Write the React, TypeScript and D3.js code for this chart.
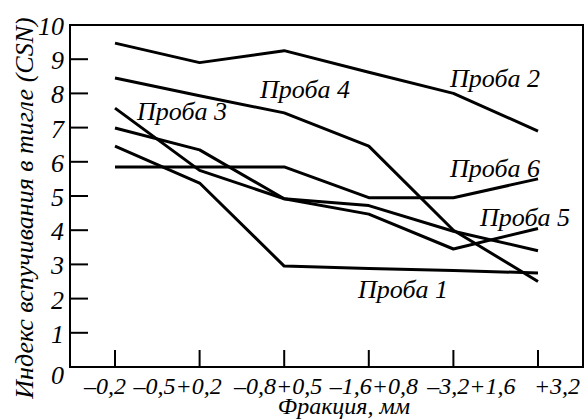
import React from 'react';
import * as d3 from 'd3';

// fractions, mm
const fractions = ['–0,2', '–0,5+0,2', '–0,8+0,5', '–1,6+0,8', '–3,2+1,6', '+3,2'];
const yTicks = [0, 1, 2, 3, 4, 5, 6, 7, 8, 9, 10];

// CSN values per sample
const proba1 = [6.46, 5.38, 2.95, 2.88, 2.82, 2.75];
const proba2 = [9.47, 8.9, 9.25, 8.62, 8.0, 6.9];
const proba3 = [7.57, 5.75, 4.92, 4.72, 3.97, 3.4];
const proba4 = [8.45, 7.93, 7.43, 6.46, 4.0, 2.5];
const proba5 = [6.99, 6.35, 4.92, 4.47, 3.45, 4.05];
const proba6 = [5.85, 5.85, 5.85, 4.95, 4.95, 5.5];

const series = [proba1, proba2, proba3, proba4, proba5, proba6];

// label placement (pixels)
const labels = [
  { text: 'Проба 1', x: 358, y: 298 },
  { text: 'Проба 2', x: 450, y: 87 },
  { text: 'Проба 3', x: 137, y: 120 },
  { text: 'Проба 4', x: 260, y: 98 },
  { text: 'Проба 5', x: 480, y: 226 },
  { text: 'Проба 6', x: 450, y: 177 },
];

const W = 584;
const H = 419;
const frame = { left: 70, top: 25, right: 583, bottom: 367 };
// horizontal shift of each fraction label from its tick
const fracShift = [-10, -22, -6, 5, 18, 19];

const serif = { fontFamily: "'Tinos'", fontStyle: 'italic' };

export default function App() {
  const x = d3.scalePoint().domain(fractions).range([115, 538]);
  const y = d3.scaleLinear().domain([0, 10]).range([frame.bottom, frame.top]);

  const line = d3
    .line()
    .x((_, i) => x(fractions[i]))
    .y((d) => y(d));

  return (
    <svg width={W} height={H} style={{ position: 'absolute', left: 0, top: 0 }}>
      <rect
        x={frame.left}
        y={frame.top}
        width={frame.right - frame.left}
        height={frame.bottom - frame.top}
        fill="none"
        stroke="#000"
        strokeWidth={2}
      />
      {yTicks.map((t) => (
        <g key={t}>
          {t > 0 && t < 10 && (
            <line x1={frame.left} x2={frame.left + 18} y1={y(t)} y2={y(t)} stroke="#000" strokeWidth={2} />
          )}
          <text x={64} y={y(t) + (t === 0 ? 17 : 10)} textAnchor="end" fontSize={26} style={serif}>
            {t}
          </text>
        </g>
      ))}
      {fractions.map((f, i) => (
        <g key={f}>
          <line x1={x(f)} x2={x(f)} y1={frame.bottom} y2={frame.bottom - 17} stroke="#000" strokeWidth={2} />
          <text x={x(f) + fracShift[i]} y={394} textAnchor="middle" fontSize={24} style={serif}>
            {f}
          </text>
        </g>
      ))}
      {series.map((s, i) => (
        <path key={i} d={line(s)} fill="none" stroke="#000" strokeWidth={3} strokeLinejoin="round" />
      ))}
      {labels.map((l) => (
        <text key={l.text} x={l.x} y={l.y} fontSize={26} style={serif}>
          {l.text}
        </text>
      ))}
      <text x={344} y={414} textAnchor="middle" fontSize={24} style={serif}>
        Фракция, мм
      </text>
      <text transform="translate(33,208) rotate(-90)" textAnchor="middle" fontSize={26} style={serif}>
        Индекс вспучивания в тигле (CSN)
      </text>
    </svg>
  );
}
